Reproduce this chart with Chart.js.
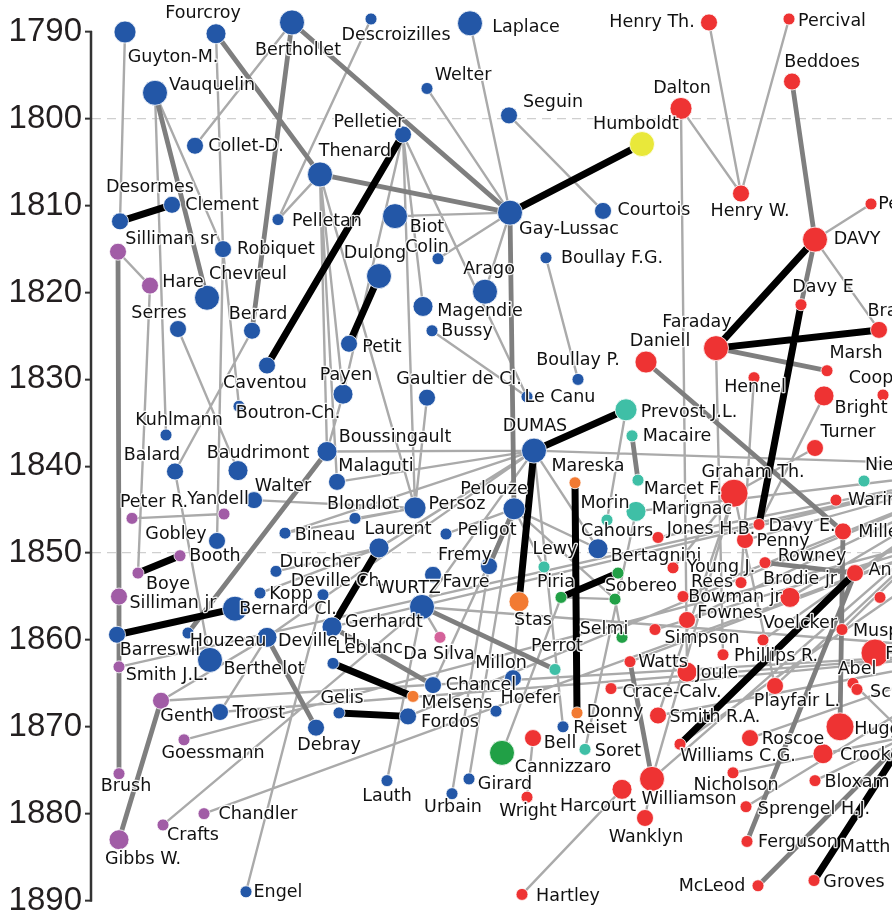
<!DOCTYPE html>
<html>
<head>
<meta charset="utf-8">
<script src="https://cdn.jsdelivr.net/npm/chart.js@4.4.0/dist/chart.umd.min.js"></script>
<style>
  html, body { margin: 0; padding: 0; background: #fff; overflow: hidden; }
  #wrap { width: 892px; height: 921px; position: relative; }
  canvas { display: block; }
</style>
</head>
<body>
<div id="wrap"><canvas id="chart"></canvas></div>
<script>
// ---- data ----
const names = [
  "Guyton-M.", "Fourcroy", "Berthollet", "Descroizilles", "Laplace", "Welter", "Seguin", "Humboldt",
  "Henry Th.", "Percival", "Beddoes", "Dalton", "Henry W.", "Courtois", "Gay-Lussac", "Vauquelin",
  "Collet-D.", "Pelletier", "Thenard", "Desormes", "Clement", "Pelletan", "Biot", "Colin",
  "Boullay F.G.", "Silliman sr", "Robiquet", "Hare", "Chevreul", "Dulong", "Arago", "Magendie",
  "Bussy", "Serres", "Berard", "Petit", "Caventou", "Faraday", "Daniell", "DAVY",
  "Davy E", "Brande", "Marsh", "Hennel", "Cooper", "Bright", "Turner", "Payen",
  "Gaultier de Cl.", "Boullay P.", "Le Canu", "Kuhlmann", "Boutron-Ch.", "Balard", "Baudrimont", "Boussingault",
  "Malaguti", "Walter", "DUMAS", "Prevost J.L.", "Macaire", "Peter R.", "Yandell", "Gobley",
  "Booth", "Boye", "Silliman jr", "Bernard Cl.", "Barreswil", "Houzeau", "Deville H.", "Berthelot",
  "Smith J.L.", "Bineau", "Blondlot", "Persoz", "Laurent", "Durocher", "Deville Ch.", "Kopp",
  "Gerhardt", "WURTZ", "Favre", "Peligot", "Fremy", "Pelouze", "Mareska", "Morin",
  "Marcet F.", "Marignac", "Cahours", "Bertagnini", "Lewy", "Piria", "Stas", "Sobereo",
  "Selmi", "Graham Th.", "Niepce", "Warington", "Jones H.B.", "Davy E.", "Penny", "Miller",
  "Young J.", "Rowney", "Anderson", "Rees", "Brodie jr", "Bowman jr", "", "Fownes",
  "Simpson", "Voelcker", "Muspratt", "Phillips R.", "Watts", "Joule", "Frankland", "Abel",
  "Schunck", "Crace-Calv.", "Playfair L.", "Donny", "Reiset", "Smith R.A.", "Huggins", "Roscoe",
  "Crookes", "Williams C.G.", "Soret", "Nicholson", "Bloxam", "Harcourt", "Williamson", "Wanklyn",
  "Sprengel H.J.", "Ferguson", "McLeod", "Groves", "Chancel", "Melsens", "Gelis", "Fordos",
  "Hoefer", "Debray", "Bell", "Cannizzaro", "Lauth", "Urbain", "Girard", "Wright",
  "Hartley", "Genth", "Troost", "Goessmann", "Brush", "Chandler", "Crafts", "Gibbs W.",
  "Engel", "Da Silva", "Leblanc", "Millon", "Perrot", "Pepys", "Matthiessen", "Hofmann",
  "Liebig", "Wöhler", "Bunsen"
];

// year of each node (vertical axis)
const years = [
  1790.0, 1790.2, 1788.9, 1788.5, 1789.0, 1796.5, 1799.6, 1802.9,
  1788.9, 1788.5, 1795.7, 1798.8, 1808.6, 1810.6, 1810.8, 1797.0,
  1803.1, 1801.8, 1806.4, 1811.8, 1809.9, 1811.6, 1811.2, 1816.1,
  1816.0, 1815.3, 1815.0, 1819.2, 1820.6, 1818.1, 1819.9, 1821.6,
  1824.4, 1824.2, 1824.4, 1825.9, 1828.4, 1826.4, 1828.0, 1813.9,
  1821.4, 1824.3, 1829.0, 1829.8, 1831.8, 1831.9, 1837.9, 1831.7,
  1832.1, 1830.0, 1832.0, 1836.4, 1833.1, 1840.6, 1840.5, 1838.3,
  1841.8, 1843.9, 1838.2, 1833.5, 1836.5, 1846.0, 1845.5, 1848.6,
  1850.3, 1852.3, 1855.0, 1856.4, 1859.4, 1859.2, 1859.7, 1862.3,
  1863.1, 1847.7, 1846.0, 1844.8, 1849.4, 1852.1, 1854.8, 1854.6,
  1858.5, 1856.2, 1852.5, 1847.8, 1851.5, 1844.9, 1841.9, 1846.2,
  1841.6, 1845.2, 1849.5, 1852.3, 1851.6, 1855.1, 1855.6, 1855.3,
  1859.7, 1843.1, 1841.7, 1843.9, 1848.2, 1846.7, 1848.5, 1847.5,
  1851.7, 1851.1, 1852.3, 1853.4, 1855.1, 1855.0, 1855.1, 1857.7,
  1858.8, 1860.0, 1858.8, 1861.7, 1862.5, 1863.7, 1861.5, 1865.0,
  1865.7, 1865.6, 1865.3, 1868.4, 1870.0, 1868.7, 1870.0, 1871.3,
  1873.1, 1872.0, 1872.6, 1875.3, 1876.2, 1877.2, 1876.0, 1880.5,
  1879.2, 1883.2, 1888.3, 1887.7, 1865.2, 1866.5, 1868.4, 1868.8,
  1868.2, 1870.1, 1871.3, 1873.0, 1876.2, 1877.7, 1876.0, 1878.1,
  1889.3, 1867.0, 1868.3, 1871.5, 1875.4, 1880.0, 1881.3, 1883.0,
  1889.0, 1859.7, 1862.7, 1864.4, 1863.4, 1809.8, 1883.9, 1871.1,
  1840.0, 1846.5, 1861.3
];

// horizontal layout coordinate of each node
const layoutX = [
  125, 216, 292, 371, 470, 427, 509, 642,
  709, 789, 792, 681, 741, 603, 510, 155,
  195, 403, 320, 120, 172, 278, 395, 438,
  546, 118, 223, 150, 207, 379, 485, 423,
  432, 178, 252, 349, 267, 716, 646, 815,
  801, 879, 827, 754, 883, 824, 815, 343,
  427, 578, 527, 166, 239, 175, 238, 327,
  337, 254, 534, 626, 632, 132, 224, 217,
  180, 138, 119, 235, 117, 188, 267, 210,
  119, 285, 355, 415, 379, 276, 323, 260,
  332, 422, 433, 446, 489, 514, 575, 607,
  638, 636, 598, 618, 544, 561, 519, 615,
  622, 734, 864, 836, 658, 759, 745, 843,
  673, 765, 855, 741, 790, 683, 880, 687,
  655, 763, 842, 723, 630, 687, 875, 853,
  857, 611, 775, 577, 563, 658, 840, 750,
  823, 680, 585, 733, 815, 622, 652, 645,
  746, 747, 758, 814, 433, 413, 339, 408,
  496, 316, 533, 502, 387, 452, 469, 527,
  522, 161, 220, 184, 119, 204, 163, 119,
  246, 440, 333, 513, 555, 871, 965, 907,
  1010, 1000, 1000
];

// number of students, in classes 1..6
const rank = [
  4, 3, 5, 1, 5, 1, 2, 5,
  2, 1, 2, 4, 2, 2, 5, 5,
  2, 2, 5, 2, 2, 1, 5, 1,
  1, 2, 2, 2, 5, 5, 5, 3,
  1, 2, 2, 2, 2, 5, 4, 5,
  1, 2, 1, 1, 1, 3, 2, 3,
  2, 1, 1, 1, 1, 2, 3, 3,
  2, 2, 5, 4, 1, 1, 1, 2,
  1, 1, 2, 5, 2, 1, 3, 5,
  1, 1, 1, 4, 3, 1, 1, 1,
  3, 5, 2, 1, 2, 4, 1, 1,
  1, 3, 3, 1, 1, 1, 3, 1,
  1, 6, 1, 1, 1, 1, 2, 2,
  1, 1, 2, 1, 3, 1, 1, 2,
  1, 1, 1, 1, 1, 3, 6, 1,
  1, 1, 2, 1, 1, 2, 6, 2,
  3, 1, 1, 1, 1, 3, 5, 2,
  1, 1, 1, 1, 2, 1, 1, 2,
  1, 2, 2, 5, 1, 1, 1, 1,
  1, 2, 2, 1, 1, 1, 1, 3,
  1, 1, 1, 2, 1, 1, 1, 6,
  6, 6, 6
];

// country of each node
const nation = [
  "fr", "fr", "fr", "fr", "fr", "fr", "fr", "de",
  "gb", "gb", "gb", "gb", "gb", "fr", "fr", "fr",
  "fr", "fr", "fr", "fr", "fr", "fr", "fr", "fr",
  "fr", "us", "fr", "us", "fr", "fr", "fr", "fr",
  "fr", "fr", "fr", "fr", "fr", "gb", "gb", "gb",
  "gb", "gb", "gb", "gb", "gb", "gb", "gb", "fr",
  "fr", "fr", "fr", "fr", "fr", "fr", "fr", "fr",
  "fr", "fr", "fr", "ch", "ch", "us", "us", "fr",
  "us", "us", "us", "fr", "fr", "fr", "fr", "fr",
  "us", "fr", "fr", "fr", "fr", "fr", "fr", "fr",
  "fr", "fr", "fr", "fr", "fr", "fr", "be", "ch",
  "ch", "ch", "fr", "it", "ch", "it", "be", "it",
  "it", "gb", "ch", "gb", "gb", "gb", "gb", "gb",
  "gb", "gb", "gb", "gb", "gb", "gb", "gb", "gb",
  "gb", "gb", "gb", "gb", "gb", "gb", "gb", "gb",
  "gb", "gb", "gb", "be", "fr", "gb", "gb", "gb",
  "gb", "gb", "ch", "gb", "gb", "gb", "gb", "gb",
  "gb", "gb", "gb", "gb", "fr", "be", "fr", "fr",
  "fr", "fr", "gb", "it", "fr", "fr", "fr", "gb",
  "gb", "us", "fr", "us", "us", "us", "us", "us",
  "fr", "pt", "fr", "fr", "ch", "gb", "gb", "de",
  "de", "de", "de"
];

// teacher -> student, strength 0 (weak), 1 (medium), 2 (strong)
const links = [
  ["Desormes", "Clement", 2], ["Pelletier", "Caventou", 2], ["Dulong", "Petit", 2],
  ["Humboldt", "Gay-Lussac", 2], ["DAVY", "Faraday", 2], ["Faraday", "Brande", 2],
  ["Davy E", "Davy E.", 2], ["DUMAS", "Prevost J.L.", 2], ["DUMAS", "Stas", 2],
  ["Mareska", "Donny", 2], ["Piria", "Bertagnini", 2], ["Laurent", "Gerhardt", 2],
  ["Barreswil", "Bernard Cl.", 2], ["Booth", "Boye", 2], ["Leblanc", "Melsens", 2],
  ["Gelis", "Fordos", 2], ["Williams C.G.", "Anderson", 2], ["Groves", "Hofmann", 2],

  ["Fourcroy", "Thenard", 1], ["Berthollet", "Berard", 1], ["Berthollet", "Gay-Lussac", 1],
  ["Thenard", "Gay-Lussac", 1], ["Vauquelin", "Chevreul", 1], ["Silliman sr", "Silliman jr", 1],
  ["Silliman jr", "Brush", 1], ["Genth", "Gibbs W.", 1], ["Beddoes", "DAVY", 1],
  ["DAVY", "Davy E", 1], ["Faraday", "Marsh", 1], ["Daniell", "Miller", 1],
  ["Miller", "Huggins", 1], ["Rowney", "Anderson", 1], ["Ferguson", "Anderson", 1],
  ["McLeod", "Hofmann", 1], ["Gay-Lussac", "Pelouze", 1], ["Pelouze", "Fremy", 1],
  ["Macaire", "Marcet F.", 1], ["Houzeau", "Boussingault", 1], ["Deville H.", "Debray", 1],
  ["Gerhardt", "Chancel", 1], ["WURTZ", "Perrot", 1], ["Williamson", "Watts", 1],

  ["Guyton-M.", "Desormes", 0], ["Fourcroy", "Robiquet", 0], ["Berthollet", "Collet-D.", 0],
  ["Descroizilles", "Pelletan", 0], ["Laplace", "Gay-Lussac", 0], ["Welter", "Gay-Lussac", 0],
  ["Seguin", "Courtois", 0], ["Dalton", "Henry W.", 0], ["Henry Th.", "Henry W.", 0],
  ["Percival", "Henry W.", 0], ["DAVY", "Pepys", 0], ["DAVY", "Brande", 0],
  ["Vauquelin", "Kuhlmann", 0], ["Vauquelin", "Robiquet", 0], ["Silliman sr", "Hare", 0],
  ["Hare", "Boye", 0], ["Peter R.", "Yandell", 0], ["Serres", "Baudrimont", 0],
  ["Berard", "Balard", 0], ["Robiquet", "Boutron-Ch.", 0], ["Robiquet", "Gobley", 0],
  ["Thenard", "Payen", 0], ["Thenard", "Boussingault", 0], ["Thenard", "Malaguti", 0],
  ["Thenard", "Pelletan", 0], ["Pelletier", "Persoz", 0], ["Pelletier", "Le Canu", 0],
  ["Pelletier", "Magendie", 0], ["Pelletier", "Payen", 0], ["Gay-Lussac", "Biot", 0],
  ["Gay-Lussac", "Colin", 0], ["Gay-Lussac", "Arago", 0], ["Boullay F.G.", "Boullay P.", 0],
  ["Bussy", "Le Canu", 0], ["Gaultier de Cl.", "Persoz", 0], ["Boussingault", "DUMAS", 0],
  ["Balard", "Berthelot", 0], ["Payen", "Boussingault", 0], ["Prevost J.L.", "Morin", 0],
  ["Piria", "Sobereo", 0], ["Sobereo", "Selmi", 0], ["Piria", "Cannizzaro", 0],
  ["Bell", "Wright", 0], ["Pelouze", "Girard", 0], ["Fremy", "Urbain", 0],
  ["WURTZ", "Lauth", 0], ["WURTZ", "Da Silva", 0], ["WURTZ", "Crafts", 0],
  ["Deville Ch.", "Engel", 0], ["Deville H.", "Troost", 0], ["Genth", "Bunsen", 0],
  ["Chandler", "Wöhler", 0], ["Goessmann", "Wöhler", 0], ["Marignac", "Soret", 0],
  ["Faraday", "Phillips R.", 0], ["Hennel", "Rees", 0], ["Bright", "Davy E.", 0],
  ["Turner", "Graham Th.", 0], ["Graham Th.", "Young J.", 0], ["Graham Th.", "Smith R.A.", 0],
  ["Graham Th.", "Playfair L.", 0], ["DUMAS", "Liebig", 0], ["WURTZ", "Bunsen", 0],
  ["DUMAS", "Cahours", 0], ["DUMAS", "WURTZ", 0], ["DUMAS", "Laurent", 0],
  ["DUMAS", "Malaguti", 0], ["DUMAS", "Deville H.", 0], ["DUMAS", "Reiset", 0],
  ["DUMAS", "Millon", 0], ["Persoz", "Blondlot", 0], ["Persoz", "Bineau", 0],
  ["Persoz", "Walter", 0], ["Pelouze", "Cahours", 0], ["Pelouze", "Lewy", 0],
  ["Pelouze", "Peligot", 0], ["Pelouze", "Chancel", 0], ["Laurent", "Durocher", 0],
  ["Laurent", "Kopp", 0], ["Gerhardt", "Liebig", 0], ["Williamson", "Liebig", 0],
  ["Playfair L.", "Liebig", 0], ["Muspratt", "Liebig", 0], ["Fownes", "Liebig", 0],
  ["Jones H.B.", "Liebig", 0], ["Marignac", "Liebig", 0], ["Anderson", "Liebig", 0],
  ["Smith J.L.", "Liebig", 0], ["Penny", "Liebig", 0], ["Frankland", "Bunsen", 0],
  ["Genth", "Deville H.", 0], ["Harcourt", "Hartley", 0], ["Williamson", "Wanklyn", 0],
  ["Graham Th.", "Williamson", 0], ["Roscoe", "Bunsen", 0], ["Crookes", "Hofmann", 0],
  ["Nicholson", "Hofmann", 0], ["Bloxam", "Hofmann", 0], ["Sprengel H.J.", "Bunsen", 0],
  ["Abel", "Hofmann", 0], ["Simpson", "Wöhler", 0], ["Watts", "Wöhler", 0],
  ["Voelcker", "Liebig", 0], ["Brodie jr", "Liebig", 0], ["Bowman jr", "Liebig", 0],
  ["Crace-Calv.", "Bunsen", 0], ["Joule", "Dalton", 0], ["Smith R.A.", "Bunsen", 0],
  ["Williams C.G.", "Wöhler", 0], ["Fordos", "Liebig", 0], ["Troost", "Bunsen", 0],
  ["Thenard", "Persoz", 0], ["DUMAS", "Bineau", 0], ["Pelouze", "Sobereo", 0]
];

const yearTicks = [1790, 1800, 1810, 1820, 1830, 1840, 1850, 1860, 1870, 1880, 1890];
const dashedYears = [1800, 1850];
const axisFrom = 1790;
const axisTo = 1890;

// ---- styles ----
const nationColors = {
  fr: "#2357a7", gb: "#ee3333", us: "#a15ca6", ch: "#3fbfa6",
  it: "#21a046", be: "#f27a32", de: "#e9e83a", pt: "#d4629a"
};
const radiusByRank = [0, 6, 8.5, 10, 11, 12.5, 14];
const linkColors = ["#aaaaaa", "#7f7f7f", "#000000"];
const linkWidths = [2.4, 4.8, 7];

// label centre relative to node, px
const labelOffsets = [
  [48, 25], [-13, -20], [6, 28], [25, 16], [56, 4], [36, -13], [44, -13], [-6, -20],
  [-57, 0], [43, 2], [30, -19], [1, -20], [9, 18], [51, 0], [59, 17], [57, -7],
  [51, 1], [-34, -12], [35, -23], [30, -34], [50, 1], [49, 2], [32, 11], [-11, -11],
  [66, 1], [53, -12], [53, 0], [33, -3], [41, -23], [-4, -23], [4, -22], [57, 5],
  [35, 1], [-19, -16], [6, -16], [33, 4], [-2, 18], [-19, -26], [14, -21], [42, 0],
  [22, -17], [20, -18], [29, -17], [1, 10], [-3, -17], [37, 13], [33, -16], [3, -19],
  [32, -18], [0, -19], [33, 1], [13, -15], [49, 7], [-23, -16], [20, -17], [68, -14],
  [39, -15], [29, -14], [1, -24], [63, 3], [45, 1], [22, -16], [-6, -15], [-41, -6],
  [35, 1], [30, 11], [54, 7], [53, 1], [43, 16], [40, 8], [53, 4], [54, 10],
  [48, 9], [40, 2], [8, -14], [42, -3], [19, -18], [44, -9], [15, -13], [31, 1],
  [52, -4], [-13, -18], [33, 8], [41, -4], [-24, -11], [-20, -19], [13, -16], [-2, -17],
  [45, 9], [56, -2], [19, -17], [38, -17], [11, -18], [-5, -15], [14, 19], [26, -13],
  [-18, -8], [19, -21], [31, -16], [57, 0], [53, -8], [43, 2], [38, 1], [39, 1],
  [48, 0], [47, -6], [55, -3], [-29, 0], [10, -18], [52, 1], [50, 0], [43, -7],
  [47, 9], [37, -16], [50, 2], [53, 2], [33, 1], [30, 1], [53, 1], [4, -14],
  [50, 3], [61, 4], [22, 15], [38, 0], [37, 2], [57, 2], [50, 3], [43, 1],
  [52, 2], [58, 12], [33, 2], [3, 13], [42, 2], [-24, 17], [37, 21], [1, 19],
  [68, 3], [51, 1], [-46, 1], [40, 2], [48, 0], [44, 7], [3, -14], [42, 6],
  [34, -13], [13, 18], [27, 5], [61, 15], [0, 16], [1, 14], [36, 6], [1, 14],
  [46, 2], [26, 16], [39, 1], [29, 14], [7, 13], [54, 1], [30, 11], [24, 20],
  [32, 1], [-1, 17], [36, -15], [-12, -15], [2, -23], [33, 0], [-72, 0], [60, 0],
  [60, 0], [60, 0], [60, 0]
];

// ---- build datasets ----
const nodeIndex = {};
names.forEach((n, i) => { if (n) nodeIndex[n] = i; });

function linkPoints(strength) {
  const pts = [];
  links.filter((l) => l[2] === strength).forEach(([a, b]) => {
    const i = nodeIndex[a];
    const j = nodeIndex[b];
    pts.push({ x: layoutX[i], y: years[i] }, { x: layoutX[j], y: years[j] }, { x: NaN, y: NaN });
  });
  return pts;
}

function linkDataset(strength) {
  return {
    data: linkPoints(strength),
    showLine: true,
    spanGaps: false,
    borderColor: linkColors[strength],
    borderWidth: linkWidths[strength],
    borderCapStyle: "round",
    pointRadius: 0,
    pointHoverRadius: 0,
    clip: false,
  };
}

const nodeDataset = {
  data: names.map((n, i) => ({ x: layoutX[i], y: years[i] })),
  pointRadius: rank.map((r) => radiusByRank[r]),
  pointHoverRadius: rank.map((r) => radiusByRank[r]),
  pointBackgroundColor: nation.map((c) => nationColors[c]),
  pointBorderColor: "#ffffff",
  pointBorderWidth: 0.8,
  clip: false,
};

// Draws the name next to each node
const nodeLabels = {
  id: "nodeLabels",
  afterDatasetsDraw(chart) {
    const ctx = chart.ctx;
    const meta = chart.getDatasetMeta(0);
    ctx.save();
    ctx.font = '17.5px "DejaVu Sans"';
    ctx.textAlign = "center";
    ctx.textBaseline = "middle";
    ctx.lineJoin = "round";
    ctx.lineWidth = 2.5;
    ctx.strokeStyle = "rgba(255,255,255,0.9)";
    ctx.fillStyle = "#111111";
    meta.data.forEach((pt, i) => {
      if (!names[i]) return;
      const [dx, dy] = labelOffsets[i];
      ctx.strokeText(names[i], pt.x + dx, pt.y + dy);
      ctx.fillText(names[i], pt.x + dx, pt.y + dy);
    });
    ctx.restore();
  },
};

// The axis line only runs between the first and last year tick
const yearAxisLine = {
  id: "yearAxisLine",
  afterDraw(chart) {
    const y = chart.scales.y;
    const ctx = chart.ctx;
    const x = chart.chartArea.left - 1;
    ctx.save();
    ctx.strokeStyle = "#333333";
    ctx.lineWidth = 2.5;
    ctx.beginPath();
    ctx.moveTo(x, y.getPixelForValue(axisFrom) - 1);
    ctx.lineTo(x, y.getPixelForValue(axisTo) + 1);
    ctx.stroke();
    ctx.restore();
  },
};

new Chart(document.getElementById("chart"), {
  type: "scatter",
  data: {
    datasets: [nodeDataset, linkDataset(2), linkDataset(1), linkDataset(0)],
  },
  options: {
    responsive: true,
    maintainAspectRatio: false,
    animation: false,
    events: [],
    layout: { autoPadding: false, padding: { top: 5.95, bottom: 20.5, left: 0, right: 0 } },
    plugins: { legend: { display: false }, tooltip: { enabled: false } },
    scales: {
      x: { type: "linear", display: false, min: 92, max: 892 },
      y: {
        type: "linear",
        reverse: true,
        min: 1787,
        max: 1890,
        afterFit: (scale) => {
          scale.width = 92;
          scale.paddingTop = 0;
          scale.paddingBottom = 0;
        },
        afterBuildTicks: (scale) => { scale.ticks = yearTicks.map((v) => ({ value: v })); },
        ticks: {
          font: { family: "Liberation Sans", size: 33 },
          color: "#231f20",
          padding: 3,
          callback: (v) => String(v),
        },
        grid: {
          color: (c) => (c.tick && dashedYears.includes(c.tick.value) ? "#cfcfcf" : "rgba(0,0,0,0)"),
          lineWidth: 1.3,
          tickLength: 7,
          tickColor: "#333333",
          tickWidth: 2,
        },
        border: { display: false, dash: [9, 6] },
      },
    },
  },
  plugins: [nodeLabels, yearAxisLine],
});
</script>
</body>
</html>
